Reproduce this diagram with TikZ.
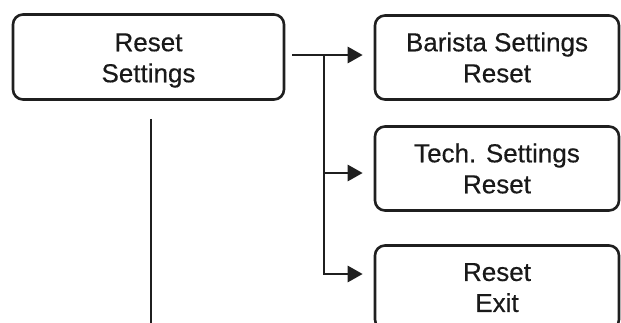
\documentclass[tikz,border=0pt]{standalone}
\usepackage{fontspec}
\setmainfont{Liberation Sans}[FakeBold=0.4]
\usetikzlibrary{arrows.meta}
\begin{document}
\begin{tikzpicture}[x=1pt,y=-1pt,
  txt/.style={align=center, font=\fontsize{26}{31}\selectfont, inner sep=0pt, text=black!90},
  box/.style={txt, draw=black!88, line width=2.6pt, rounded corners=10pt},
  conn/.style={line width=2.8pt, draw=black!88},
  arr/.style={conn, -{Triangle[length=15pt,width=16pt]}}]
\useasboundingbox (0,0) rectangle (621,322);
\clip (0,0) rectangle (621,322);
\node[box, minimum width=271pt, minimum height=85pt] (b1) at (148.5,57) {};
\node[txt] (t1) at ([yshift=-3.5pt]b1.center) {Reset\\Settings};
\node[box, minimum width=244pt, minimum height=84pt] (b2) at (497,57.5) {Barista Settings\\Reset};
\node[box, minimum width=244pt, minimum height=84pt] (b3) at (497,168.5) {Tech. Settings\\Reset};
\node[box, minimum width=244pt, minimum height=84pt, text depth=0pt] (b4) at (497,287.5) {Reset\\Exit};
\coordinate (j) at (324,55);
\coordinate (j3) at (324,173);
\coordinate (j4) at (324,274);
\coordinate (e) at (151,323);
\draw[conn] (292,55) -- (j);
\draw[arr, shorten >=11pt] (j) -- (j -| b2.west);
\draw[arr, shorten >=11pt] (j3) -- (j3 -| b3.west);
\draw[arr, shorten >=11pt] (j) |- (j4 -| b4.west);
\draw[conn] ([xshift=2.5pt,yshift=-18pt]b1.south) -- (e);
\end{tikzpicture}
\end{document}
